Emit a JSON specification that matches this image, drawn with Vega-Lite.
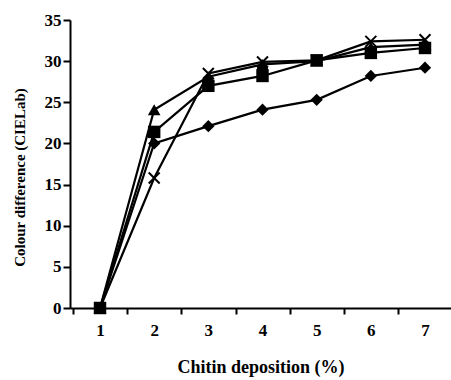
{
  "$schema": "https://vega.github.io/schema/vega-lite/v6.json",
  "width": 381,
  "height": 288,
  "autosize": "none",
  "padding": {"left": 70, "top": 20, "right": 0, "bottom": 72},
  "background": "white",
  "config": {
    "view": {"stroke": null},
    "font": "Liberation Serif",
    "axis": {
      "labelFont": "Liberation Serif", "titleFont": "Liberation Serif",
      "labelFontSize": 17, "labelFontWeight": "bold", "titleFontWeight": "bold",
      "labelColor": "black", "titleColor": "black", "domainColor": "black", "tickColor": "black",
      "domainWidth": 2, "tickWidth": 2, "grid": false
    }
  },
  "data": {"values": [
    {"x": 1, "y": 0, "s": "diamond"}, {"x": 2, "y": 20.0, "s": "diamond"}, {"x": 3, "y": 22.1, "s": "diamond"}, {"x": 4, "y": 24.1, "s": "diamond"}, {"x": 5, "y": 25.3, "s": "diamond"}, {"x": 6, "y": 28.2, "s": "diamond"}, {"x": 7, "y": 29.2, "s": "diamond"},
    {"x": 1, "y": 0, "s": "square"}, {"x": 2, "y": 21.4, "s": "square"}, {"x": 3, "y": 27.0, "s": "square"}, {"x": 4, "y": 28.2, "s": "square"}, {"x": 5, "y": 30.1, "s": "square"}, {"x": 6, "y": 31.0, "s": "square"}, {"x": 7, "y": 31.6, "s": "square"},
    {"x": 1, "y": 0, "s": "triangle-up"}, {"x": 2, "y": 24.1, "s": "triangle-up"}, {"x": 3, "y": 28.1, "s": "triangle-up"}, {"x": 4, "y": 29.6, "s": "triangle-up"}, {"x": 5, "y": 30.0, "s": "triangle-up"}, {"x": 6, "y": 31.7, "s": "triangle-up"}, {"x": 7, "y": 32.0, "s": "triangle-up"},
    {"x": 1, "y": 0, "s": "x"}, {"x": 2, "y": 15.8, "s": "x"}, {"x": 3, "y": 28.5, "s": "x"}, {"x": 4, "y": 29.9, "s": "x"}, {"x": 5, "y": 30.1, "s": "x"}, {"x": 6, "y": 32.4, "s": "x"}, {"x": 7, "y": 32.6, "s": "x"}
  ]},
  "encoding": {
    "x": {"field": "x", "type": "quantitative",
      "scale": {"domain": [0.446, 7.48], "nice": false, "zero": false},
      "axis": {"values": [1, 2, 3, 4, 5, 6, 7], "title": "Chitin deposition (%)", "titleFontSize": 18, "tickSize": 6, "tickOffset": -27, "labelOffset": 27, "labelPadding": 8, "format": "d",
        "titleX": 190.5, "titleY": 64, "titleBaseline": "alphabetic", "titleAlign": "center"}},
    "y": {"field": "y", "type": "quantitative",
      "scale": {"domain": [0, 35], "nice": false},
      "axis": {"values": [0, 5, 10, 15, 20, 25, 30, 35], "title": "Colour difference (CIELab)", "titleFontSize": 15, "tickSize": 7, "labelPadding": 2,
        "titleX": -50.5, "titleY": 157, "titleAngle": -90, "titleBaseline": "middle", "titleAlign": "center"}}
  },
  "layer": [
    {"mark": {"type": "line", "color": "black", "strokeWidth": 2.2}, "encoding": {"detail": {"field": "s"}}},
    {"transform": [{"filter": "datum.s !== 'x'"}],
     "mark": {"type": "point", "filled": true, "color": "black", "opacity": 1},
     "encoding": {
       "shape": {"field": "s", "type": "nominal", "scale": null, "legend": null},
       "size": {"field": "s", "type": "nominal", "scale": {"domain": ["diamond", "square", "triangle-up"], "range": [150, 160, 170]}, "legend": null}
     }},
    {"transform": [{"filter": "datum.s === 'x'"}],
     "mark": {"type": "point", "shape": "M-1,-1L1,1M-1,1L1,-1", "filled": false, "color": "black", "strokeWidth": 2, "size": 120, "opacity": 1}}
  ]
}
